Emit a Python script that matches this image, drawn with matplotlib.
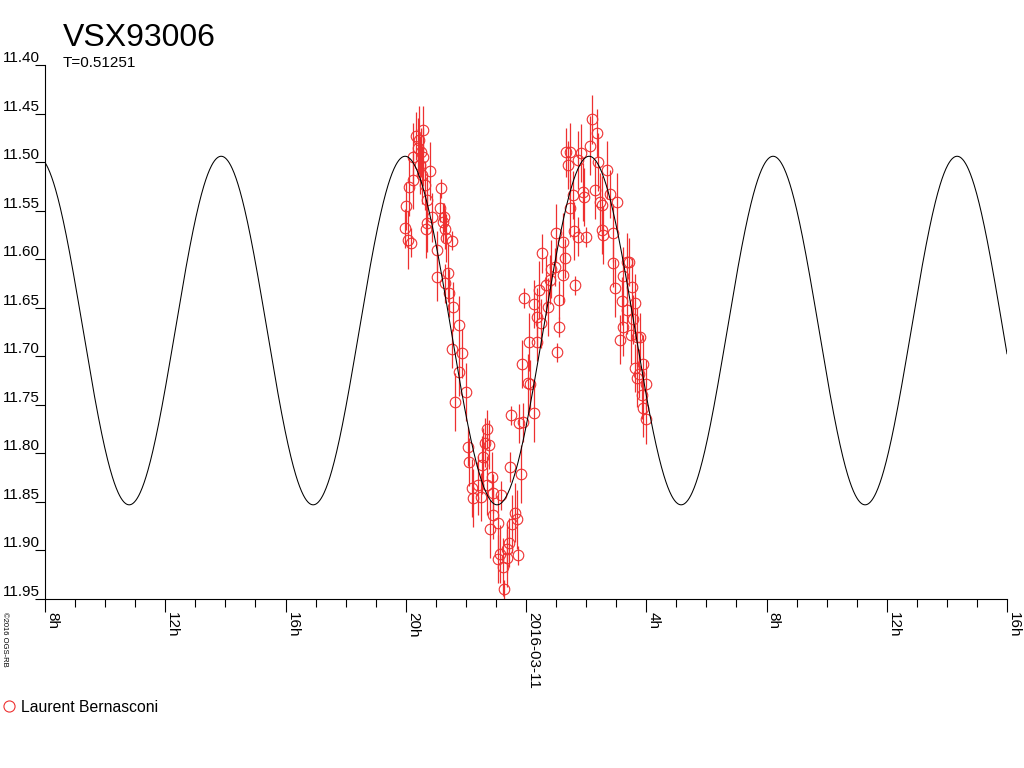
import numpy as np
import matplotlib
matplotlib.use('Agg')
import matplotlib.pyplot as plt
from matplotlib.lines import Line2D

plt.rcParams['font.family'] = ['Liberation Sans', 'DejaVu Sans']

# observations: hours since 2016-03-10 00:00, magnitude, error
hours = [19.98, 20.01, 20.08, 20.11, 20.18, 20.24, 20.24, 20.34, 20.41, 20.44,
         20.48, 20.51, 20.54, 20.58, 20.58, 20.64, 20.68, 20.71, 20.71, 20.81,
         20.87, 21.04, 21.04, 21.14, 21.17, 21.24, 21.27, 21.31, 21.31, 21.34,
         21.41, 21.44, 21.54, 21.57, 21.64, 21.54, 21.77, 21.77, 21.87, 22.01,
         22.07, 22.11, 22.21, 22.24, 22.41, 22.50, 22.54, 22.57, 22.64, 22.70,
         22.70, 22.77, 22.80, 22.87, 22.90, 22.90, 23.07, 23.07, 23.14, 23.17,
         23.24, 23.27, 23.37, 23.37, 23.44, 23.47, 23.50, 23.54, 23.64, 23.70,
         23.74, 23.77, 23.84, 23.87, 23.90, 23.94, 24.07, 24.10, 24.13, 24.27,
         24.27, 24.37, 24.37, 24.43, 24.50, 24.53, 24.67, 24.73, 24.80, 24.83,
         24.97, 25.00, 25.03, 25.10, 25.10, 25.23, 25.23, 25.30, 25.33, 25.40,
         25.47, 25.47, 25.57, 25.60, 25.63, 25.73, 25.73, 25.83, 25.90, 25.93,
         26.00, 26.13, 26.20, 26.30, 26.36, 26.40, 26.46, 26.53, 26.53, 26.56,
         26.70, 26.80, 26.90, 26.90, 26.96, 27.03, 27.13, 27.20, 27.23, 27.23,
         27.36, 27.36, 27.43, 27.49, 27.53, 27.56, 27.63, 27.63, 27.69, 27.69,
         27.76, 27.79, 27.86, 27.89, 27.89, 27.99, 27.99]
mags = [11.568, 11.545, 11.580, 11.526, 11.583, 11.495, 11.518, 11.473, 11.485, 11.477,
        11.503, 11.490, 11.513, 11.467, 11.495, 11.524, 11.569, 11.539, 11.563, 11.509,
        11.557, 11.591, 11.618, 11.547, 11.527, 11.562, 11.557, 11.569, 11.625, 11.578,
        11.614, 11.635, 11.581, 11.649, 11.747, 11.692, 11.668, 11.716, 11.697, 11.737,
        11.793, 11.809, 11.836, 11.846, 11.833, 11.845, 11.812, 11.804, 11.789, 11.775,
        11.833, 11.791, 11.878, 11.824, 11.863, 11.841, 11.872, 11.909, 11.904, 11.843,
        11.917, 11.940, 11.898, 11.908, 11.892, 11.814, 11.761, 11.873, 11.861, 11.868,
        11.905, 11.769, 11.821, 11.708, 11.768, 11.640, 11.728, 11.685, 11.729, 11.646,
        11.758, 11.660, 11.685, 11.632, 11.666, 11.594, 11.627, 11.649, 11.621, 11.610,
        11.608, 11.573, 11.696, 11.642, 11.670, 11.582, 11.616, 11.599, 11.490, 11.503,
        11.490, 11.547, 11.534, 11.571, 11.627, 11.498, 11.577, 11.491, 11.531, 11.536,
        11.577, 11.483, 11.456, 11.529, 11.470, 11.500, 11.541, 11.544, 11.570, 11.575,
        11.508, 11.533, 11.604, 11.573, 11.630, 11.541, 11.683, 11.643, 11.617, 11.670,
        11.603, 11.652, 11.603, 11.678, 11.629, 11.662, 11.645, 11.712, 11.680, 11.722,
        11.718, 11.680, 11.740, 11.708, 11.753, 11.729, 11.765]
errs = [0.020, 0.025, 0.030, 0.030, 0.015, 0.035, 0.030, 0.025, 0.030, 0.035,
        0.030, 0.025, 0.030, 0.025, 0.030, 0.025, 0.030, 0.025, 0.030, 0.030,
        0.025, 0.020, 0.025, 0.015, 0.010, 0.020, 0.015, 0.020, 0.020, 0.025,
        0.030, 0.025, 0.010, 0.025, 0.030, 0.020, 0.030, 0.025, 0.025, 0.030,
        0.020, 0.025, 0.030, 0.030, 0.030, 0.025, 0.030, 0.030, 0.025, 0.020,
        0.030, 0.025, 0.030, 0.025, 0.025, 0.020, 0.030, 0.025, 0.030, 0.015,
        0.030, 0.010, 0.025, 0.030, 0.025, 0.015, 0.010, 0.030, 0.030, 0.030,
        0.010, 0.020, 0.030, 0.025, 0.020, 0.010, 0.030, 0.030, 0.025, 0.025,
        0.030, 0.030, 0.020, 0.030, 0.025, 0.020, 0.030, 0.030, 0.025, 0.030,
        0.020, 0.030, 0.010, 0.020, 0.010, 0.030, 0.030, 0.020, 0.025, 0.025,
        0.030, 0.030, 0.025, 0.030, 0.010, 0.030, 0.020, 0.030, 0.030, 0.030,
        0.010, 0.030, 0.025, 0.030, 0.025, 0.030, 0.030, 0.030, 0.025, 0.030,
        0.030, 0.025, 0.025, 0.030, 0.030, 0.030, 0.025, 0.025, 0.030, 0.030,
        0.030, 0.025, 0.025, 0.030, 0.030, 0.025, 0.030, 0.025, 0.030, 0.030,
        0.025, 0.025, 0.025, 0.030, 0.030, 0.025, 0.025]

# fitted light curve (two equal minima per period)
PERIOD = 0.51251          # days, as printed on the chart
HALF_PERIOD_H = 6.12      # hours between maxima as drawn
T_MAX = 19.98             # hours, time of a maximum
MEAN_MAG = 11.6735
AMPLITUDE = 0.1795

tick_hours = [8, 12, 16, 20, 24, 28, 32, 36, 40]
tick_labels = ['8h', '12h', '16h', '20h', '2016-03-11', '4h', '8h', '12h', '16h']
mag_ticks = [11.40, 11.45, 11.50, 11.55, 11.60, 11.65, 11.70, 11.75, 11.80, 11.85, 11.90, 11.95]

red = '#ee3030'

fig = plt.figure(figsize=(10.24, 7.68), dpi=100)
ax = fig.add_axes([45 / 1024, 1 - 599 / 768, 962 / 1024, 534 / 768])

t = np.linspace(8, 40, 2000)
curve = MEAN_MAG - AMPLITUDE * np.cos(2 * np.pi * (t - T_MAX) / HALF_PERIOD_H)

ax.errorbar(hours, mags, yerr=errs, fmt='none', ecolor=red, elinewidth=0.9, capsize=0, zorder=2)
ax.plot(hours, mags, 'o', ms=7.6, mfc='none', mec=red, mew=0.8, zorder=3)
ax.plot(t, curve, color='black', lw=0.75, zorder=4)

ax.set_xlim(8, 40)
ax.set_ylim(11.95, 11.40)
for s in ['top', 'right']:
    ax.spines[s].set_visible(False)
for s in ['left', 'bottom']:
    ax.spines[s].set_linewidth(0.8)

ax.set_xticks(tick_hours)
ax.set_xticklabels(tick_labels, rotation=270, ha='left', va='top', fontsize=11)
ax.set_xticks(np.arange(8, 41, 1), minor=True)
ax.tick_params(axis='x', which='major', direction='out', length=9, width=0.8, pad=0.5)
ax.tick_params(axis='x', which='minor', direction='out', length=6, width=0.8)

ax.set_yticks(mag_ticks)
ax.set_yticklabels(['%.2f' % m for m in mag_ticks], fontsize=11)
ax.tick_params(axis='y', direction='out', length=7.2, width=0.8, pad=-3.6)
for lbl in ax.get_yticklabels():
    lbl.set_verticalalignment('bottom')

fig.text(63 / 1024, 1 - 46 / 768, 'VSX93006', fontsize=23, va='baseline')
fig.text(63 / 1024, 1 - 67 / 768, 'T=%.5f' % PERIOD, fontsize=11, va='baseline')
fig.text(0.5 / 1024, 1 - 612 / 768, '\u00a92016 OGS-RB', fontsize=5.5, rotation=270,
         ha='left', va='top')

handle = Line2D([], [], marker='o', ls='none', ms=8, mfc='none', mec=red, mew=0.8)
fig.legend([handle], ['Laurent Bernasconi'], loc='center left',
           bbox_to_anchor=(0.0, 1 - 707 / 768), frameon=False, fontsize=11.3,
           handletextpad=0.15, borderaxespad=0, handlelength=1.2, borderpad=0)

fig.savefig('out.png', dpi=100)
